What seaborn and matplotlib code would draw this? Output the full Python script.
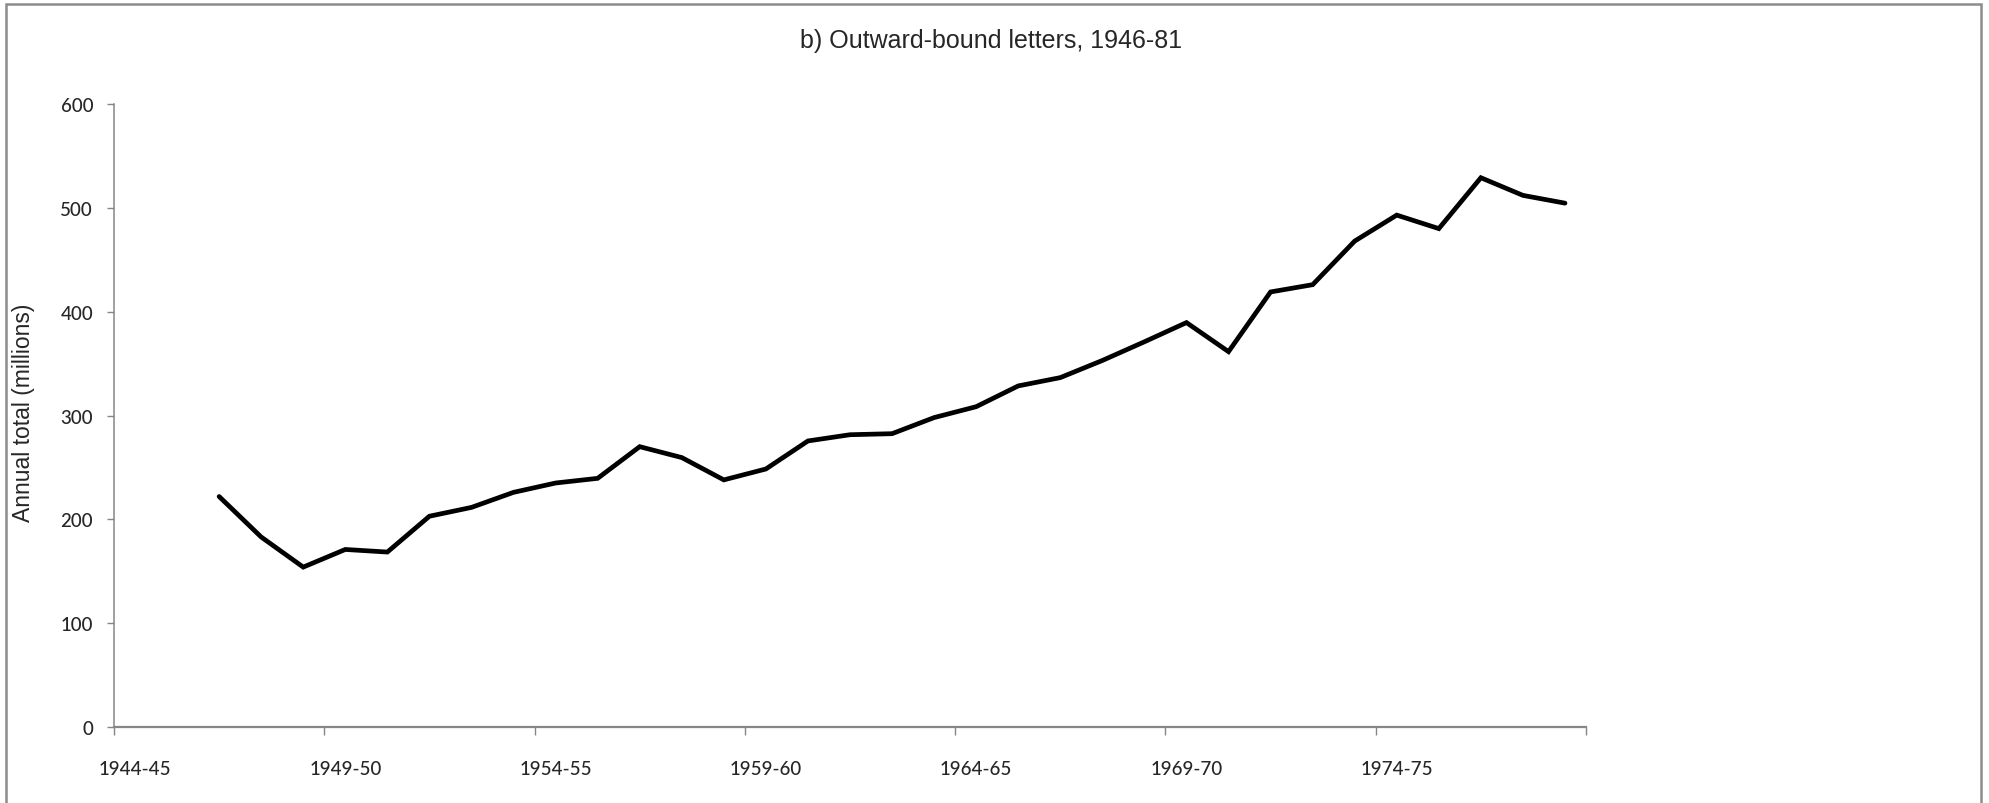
import numpy as np
import pandas as pd
import seaborn as sns
import matplotlib.pyplot as plt
from matplotlib.patches import Rectangle

# ── Data (annual outward-bound letters, millions) ─────────────────────────
seasons = [
    "1944-45", "1945-46", "1946-47", "1947-48", "1948-49",
    "1949-50", "1950-51", "1951-52", "1952-53", "1953-54",
    "1954-55", "1955-56", "1956-57", "1957-58", "1958-59",
    "1959-60", "1960-61", "1961-62", "1962-63", "1963-64",
    "1964-65", "1965-66", "1966-67", "1967-68", "1968-69",
    "1969-70", "1970-71", "1971-72", "1972-73", "1973-74",
    "1974-75", "1975-76", "1976-77", "1977-78", "1978-79",
]
letters = [
    np.nan, np.nan, 222, 183, 154,
    171, 168.5, 203, 211.5, 226,
    235, 239.5, 270, 259.5, 238,
    248.5, 275.5, 281.5, 282.5, 298,
    308.5, 328.5, 336.5, 353, 371,
    389.5, 361.5, 419, 426, 468,
    493, 480, 529, 512, 504.5,
]
y_ticks = [0, 100, 200, 300, 400, 500, 600]
label_every = 5

df = pd.DataFrame({"season": seasons, "letters": letters})
df["pos"] = np.arange(len(df))

# ── Style ─────────────────────────────────────────────────────────────────
sns.set_style("white")
plt.rcParams["font.family"] = ["Liberation Sans", "DejaVu Sans"]
tick_font = ["Liberation Sans Narrow", "Lato", "DejaVu Sans"]
axis_grey = "#868686"

fig = plt.figure(figsize=(19.89, 8.04), dpi=100)
ax = fig.add_axes([0.0573, 0.0945, 0.7401, 0.7749])

sns.lineplot(data=df, x="pos", y="letters", ax=ax, color="black",
             linewidth=3.4, solid_joinstyle="miter")

# ── Axes ──────────────────────────────────────────────────────────────────
ax.set_xlim(-0.5, len(seasons) - 0.5)
ax.set_ylim(y_ticks[0], y_ticks[-1])
ax.set_yticks(y_ticks)
ax.set_yticklabels([str(v) for v in y_ticks], family=tick_font,
                   fontsize=13.5, fontweight="medium")

boundaries = np.arange(-0.5, len(seasons), label_every)
ax.set_xticks(boundaries)
ax.set_xticklabels([])
label_pos = df["pos"].values[::label_every]
ax.set_xticks(label_pos, minor=True)
ax.set_xticklabels(df["season"].values[::label_every], minor=True,
                   family=tick_font, fontsize=13.5, fontweight="medium")

ax.tick_params(axis="x", which="major", direction="out", length=6,
               width=1, color=axis_grey, bottom=True)
ax.tick_params(axis="x", which="minor", length=0, pad=24, bottom=True)
ax.tick_params(axis="y", direction="out", length=5, width=1,
               color=axis_grey, pad=10, left=True)

for side in ["top", "right"]:
    ax.spines[side].set_visible(False)
ax.spines["left"].set_color(axis_grey)
ax.spines["left"].set_linewidth(1.1)
ax.spines["bottom"].set_color(axis_grey)
ax.spines["bottom"].set_linewidth(1.6)

ax.set_xlabel("")
ax.set_ylabel("")
fig.text(0.0116, 0.486, "Annual total (millions)", rotation=90,
         ha="center", va="center", fontsize=16.5)
fig.text(0.4985, 0.949, "b) Outward-bound letters, 1946-81",
         ha="center", va="center", fontsize=18)

# chart-area frame (open at the bottom edge of the picture)
fig.patches.append(Rectangle((6 / 1989, -0.05), 1975 / 1989, 1.05 - 5 / 804,
                             transform=fig.transFigure, fill=False,
                             edgecolor="#8c8c8c", linewidth=1.8))

fig.savefig("out.png", dpi=100)
